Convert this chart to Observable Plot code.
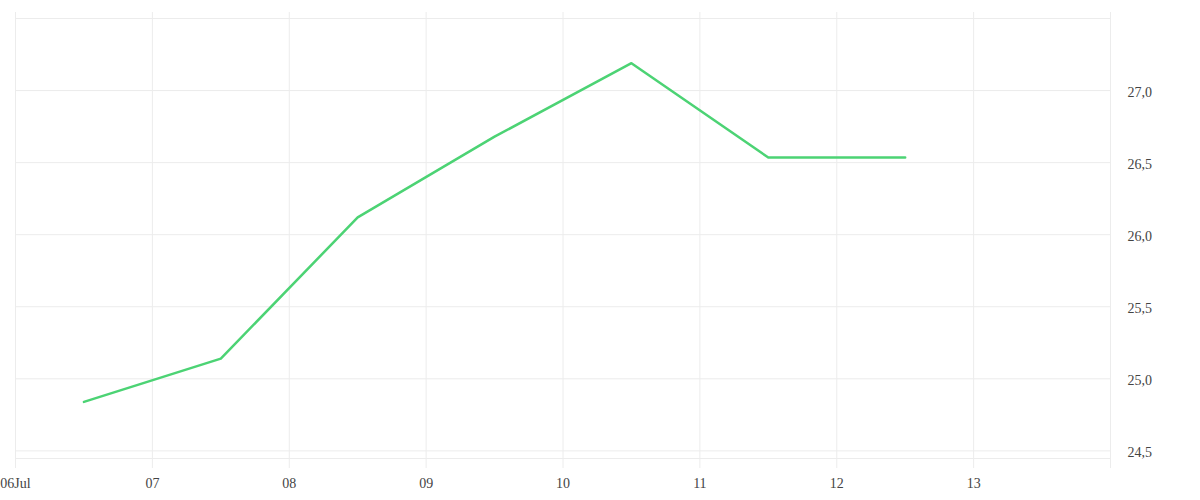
<!DOCTYPE html>
<html>
<head>
<meta charset="utf-8">
<script src="https://cdn.jsdelivr.net/npm/d3@7"></script>
<script src="https://cdn.jsdelivr.net/npm/@observablehq/plot@0.6"></script>
<style>
  html, body { margin: 0; padding: 0; background: #fff; }
  #chart svg { display: block; }
</style>
</head>
<body>
<div id="chart"></div>
<script>
const dates = ["2024-07-06T12:00", "2024-07-07T12:00", "2024-07-08T12:00", "2024-07-09T12:00", "2024-07-10T12:00", "2024-07-11T12:00", "2024-07-12T12:00"];
const values = [24.84, 25.14, 26.12, 26.68, 27.19, 26.535, 26.535];
const xTicks = ["2024-07-06", "2024-07-07", "2024-07-08", "2024-07-09", "2024-07-10", "2024-07-11", "2024-07-12", "2024-07-13", "2024-07-14"];
const xTickLabels = ["06Jul", "07", "08", "09", "10", "11", "12", "13", ""];
const yGrid = [24.5, 25.0, 25.5, 26.0, 26.5, 27.0, 27.5];
const yTickLabels = [24.5, 25.0, 25.5, 26.0, 26.5, 27.0];
const xDomain = ["2024-07-06", "2024-07-14"];
const yDomain = [24.447, 27.5];

const parse = s => new Date(s);
const data = dates.map((d, i) => ({date: parse(d), value: values[i]}));
const xTickDates = xTicks.map(parse);
const labelFor = new Map(xTickDates.map((d, i) => [+d, xTickLabels[i]]));
const gridColor = "#ececec";

const chart = Plot.plot({
  width: 1200,
  height: 500,
  marginLeft: 15,
  marginRight: 90,
  marginTop: 18,
  marginBottom: 42,
  style: {fontFamily: "'Liberation Serif', serif", fontSize: "14px", color: "#444", background: "#fff"},
  x: {type: "time", domain: xDomain.map(parse), label: null},
  y: {domain: yDomain, label: null},
  marks: [
    Plot.ruleY(yGrid, {y: d => d, stroke: gridColor, strokeWidth: 1}),
    Plot.ruleY([yDomain[0]], {y: d => d, stroke: gridColor, strokeWidth: 1}),
    Plot.ruleX(xTickDates, {x: d => d, stroke: gridColor, strokeWidth: 1, insetTop: -6, insetBottom: -10}),
    Plot.axisX(xTickDates, {tickSize: 0, tickPadding: 20, label: null, tickFormat: d => labelFor.get(+d), fill: "#444"}),
    Plot.axisY(yTickLabels, {anchor: "right", tickSize: 0, tickPadding: 17, label: null, dy: 2, tickFormat: d => d.toFixed(1).replace(".", ","), fill: "#444"}),
    Plot.line(data, {x: "date", y: "value", stroke: "#4cd374", strokeWidth: 2.5})
  ]
});
document.getElementById("chart").append(chart);
</script>
</body>
</html>
